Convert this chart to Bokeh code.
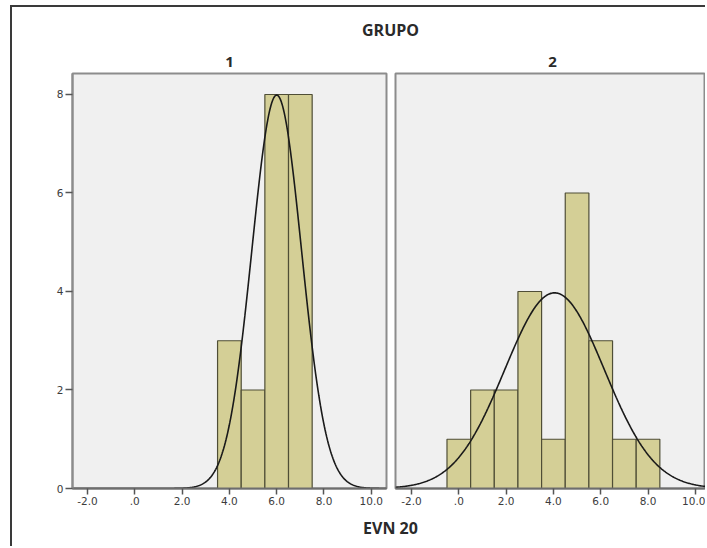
import numpy as np
from bokeh.plotting import figure
from bokeh.layouts import column, row
from bokeh.models import Range1d, FixedTicker
from bokeh.core.properties import value
from bokeh.embed import file_html
from bokeh.resources import INLINE

# ---------------- data ----------------
group_labels = ["1", "2"]
bin_centers_1 = [4, 5, 6, 7]
counts_1 = [3, 2, 8, 8]
bin_centers_2 = [0, 1, 2, 3, 4, 5, 6, 7, 8]
counts_2 = [1, 2, 2, 4, 1, 6, 3, 1, 1]
bin_width = 1.0
x_ticks = [-2, 0, 2, 4, 6, 8, 10]
x_tick_labels = ["-2.0", ".0", "2.0", "4.0", "6.0", "8.0", "10.0"]
y_ticks = [0, 2, 4, 6, 8]
y_tick_labels = ["0", "2", "4", "6", "8"]
facet_title = "GRUPO"
x_title = "EVN 20"

# ---------------- style ----------------
BAR_FILL = "#d4cf96"
BAR_LINE = "#4f4e36"
PANEL_BG = "#f0f0f0"
PANEL_EDGE = "#8c8c8c"
TICK_COL = "#555555"
LABEL_COL = "#3c3c3c"
TXT_FONT = "DejaVu Sans"
BOLD_FONT = "Open Sans"

X1 = (-2.634, 10.643)
X2 = (-2.677, 10.43)
Y = (0, 8.426)

FRAME_W1, FRAME_W2, FRAME_H = 314, 310, 415
LB1, RB1, LB2 = 60, 4, 5
TOP_B, BOT_B = 2, 22
HDR_H, FTR_H = 64, 36
TOTAL_W = LB1 + FRAME_W1 + RB1 + LB2 + FRAME_W2


def normal_curve(centers, counts, xr):
    c = np.asarray(centers, float)
    n = np.asarray(counts, float)
    N = n.sum()
    mu = (c * n).sum() / N
    sd = np.sqrt(((c - mu) ** 2 * n).sum() / (N - 1))
    xs = np.linspace(xr[0], xr[1], 400)
    ys = N * bin_width * np.exp(-0.5 * ((xs - mu) / sd) ** 2) / (sd * np.sqrt(2 * np.pi))
    return xs, ys


def style_xaxis(p):
    ax = p.xaxis[0]
    ax.ticker = FixedTicker(ticks=x_ticks)
    ax.major_label_overrides = {t: l for t, l in zip(x_ticks, x_tick_labels)}
    ax.axis_line_color = "#6e6e6e"
    ax.axis_line_width = 2
    ax.major_tick_in = 0
    ax.major_tick_out = 6
    ax.major_tick_line_color = TICK_COL
    ax.major_tick_line_width = 1.5
    ax.minor_tick_line_color = None
    ax.major_label_text_font = TXT_FONT
    ax.major_label_text_font_size = "10.5px"
    ax.major_label_text_color = LABEL_COL
    ax.major_label_standoff = 2


def panel(centers, counts, xr, width, lb, rb, with_y):
    kw = dict(
        frame_width=width, frame_height=FRAME_H,
        x_range=Range1d(*xr), y_range=Range1d(*Y),
        min_border_left=lb, min_border_right=rb,
        min_border_top=TOP_B, min_border_bottom=BOT_B,
        toolbar_location=None, output_backend="svg",
    )
    if not with_y:
        kw["y_axis_type"] = None
    p = figure(**kw)
    p.background_fill_color = PANEL_BG
    p.border_fill_color = "white"
    p.outline_line_color = PANEL_EDGE
    p.outline_line_width = 2
    p.grid.visible = False
    p.vbar(x=centers, width=bin_width, top=counts, bottom=0,
           fill_color=BAR_FILL, line_color=BAR_LINE, line_width=1.2)
    xs, ys = normal_curve(centers, counts, xr)
    p.line(xs, ys, line_color="#1a1a1a", line_width=1.6)
    style_xaxis(p)
    if with_y:
        ay = p.yaxis[0]
        ay.ticker = FixedTicker(ticks=y_ticks)
        ay.major_label_overrides = {t: l for t, l in zip(y_ticks, y_tick_labels)}
        ay.axis_line_color = PANEL_EDGE
        ay.axis_line_width = 2
        ay.major_tick_in = 0
        ay.major_tick_out = 7
        ay.major_tick_line_color = TICK_COL
        ay.major_tick_line_width = 1.5
        ay.minor_tick_line_color = None
        ay.major_label_text_font = TXT_FONT
        ay.major_label_text_font_size = "10.5px"
        ay.major_label_text_color = LABEL_COL
        ay.major_label_standoff = 2
    return p


p1 = panel(bin_centers_1, counts_1, X1, FRAME_W1, LB1, RB1, True)
p2 = panel(bin_centers_2, counts_2, X2, FRAME_W2, LB2, 0, False)


def strip(h):
    s = figure(width=TOTAL_W, height=h, x_range=Range1d(0, TOTAL_W), y_range=Range1d(0, h),
               x_axis_type=None, y_axis_type=None, min_border=0,
               toolbar_location=None, output_backend="svg")
    s.grid.visible = False
    s.outline_line_color = None
    s.background_fill_color = "white"
    s.border_fill_color = "white"
    return s


hdr = strip(HDR_H)
c1 = LB1 + FRAME_W1 / 2
c2 = LB1 + FRAME_W1 + RB1 + LB2 + 157
hdr.text(x=[378], y=[42], text=[facet_title], text_align="center", text_baseline="middle",
         text_font=value(BOLD_FONT), text_font_style="bold", text_font_size="16px",
         text_color="#2a2a2a")
hdr.text(x=[c1, c2], y=[10, 10], text=group_labels, text_align="center",
         text_baseline="middle", text_font=value(BOLD_FONT), text_font_style="bold",
         text_font_size="15px", text_color="#2a2a2a")

ftr = strip(FTR_H)
ftr.text(x=[378], y=[19], text=[x_title], text_align="center", text_baseline="middle",
         text_font=value(BOLD_FONT), text_font_style="bold", text_font_size="16px",
         text_color="#2a2a2a")

layout = column(hdr, row(p1, p2), ftr, margin=(5, 0, 0, 10),
                styles={"border-left": "2px solid #3a3a3a", "border-top": "2px solid #3a3a3a"})

open("out.html", "w").write(file_html(layout, INLINE))
